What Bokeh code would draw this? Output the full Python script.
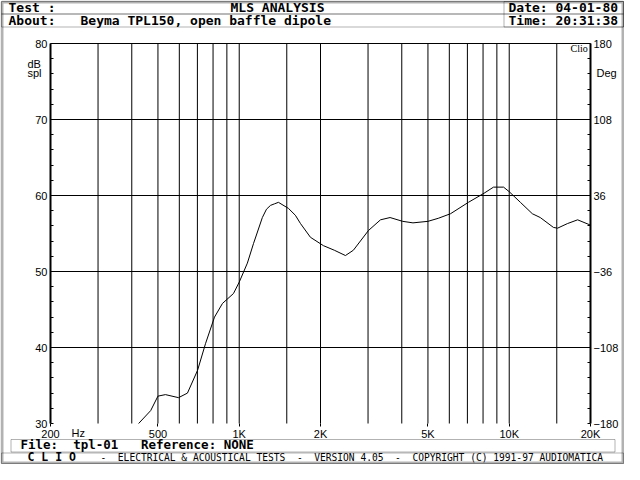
from bokeh.plotting import figure
from bokeh.models import LinearAxis, Range1d, FixedTicker, Label, BoxAnnotation
from bokeh.embed import file_html
from bokeh.resources import INLINE

# ---------------- data ----------------
freq_hz = [424, 470, 500, 533, 596, 643, 701, 750, 810, 867, 952, 1000,
           1072, 1130, 1218, 1262, 1306, 1350, 1397, 1522, 1614, 1687, 1836,
           2051, 2250, 2474, 2647, 3012, 3336, 3620, 4030, 4400, 5000, 5460,
           6060, 7060, 8070, 8745, 9530, 10000, 11000, 12180, 13030, 14580,
           15100, 16420, 17920, 20000]
spl_db = [30.0, 31.7, 33.6, 33.8, 33.4, 34.0, 37.0, 40.5, 44.0, 45.8, 47.1,
          48.6, 51.1, 53.7, 57.1, 58.2, 58.7, 58.9, 59.1, 58.3, 57.4, 56.3,
          54.5, 53.4, 52.8, 52.1, 52.8, 55.4, 56.8, 57.1, 56.6, 56.4, 56.6,
          57.0, 57.6, 59.1, 60.3, 61.1, 61.1, 60.5, 59.1, 57.6, 57.1, 55.8,
          55.7, 56.3, 56.8, 56.1]

F_MIN, F_MAX = 200, 20000
DB_MIN, DB_MAX = 30, 80
DEG_MIN, DEG_MAX = -180, 180

freq_ticks = [200, 500, 1000, 2000, 5000, 10000, 20000]
freq_labels = ["200", "500", "1K", "2K", "5K", "10K", "20K"]
freq_grid = [300, 400, 500, 600, 700, 800, 900, 1000, 1500, 2000, 3000, 4000,
             5000, 6000, 7000, 8000, 9000, 10000, 15000]
db_ticks = [30, 40, 50, 60, 70, 80]
db_minor = [30, 32, 34, 36, 38, 40, 42, 44, 46, 48, 50, 52, 54, 56, 58, 60,
            62, 64, 66, 68, 70, 72, 74, 76, 78, 80]
db_grid = [40, 50, 60, 70, 80]
deg_ticks = [-180, -108, -36, 36, 108, 180]
deg_minor = [-180, -165.6, -151.2, -136.8, -122.4, -108, -93.6, -79.2, -64.8,
             -50.4, -36, -21.6, -7.2, 7.2, 21.6, 36, 50.4, 64.8, 79.2, 93.6,
             108, 122.4, 136.8, 151.2, 165.6, 180]

NB = "\u00a0"  # non-breaking space keeps the fixed-width gaps in SVG text
title_text = "MLS ANALYSIS"
test_text = "Test :"
about_text = "About:"
device_text = "Beyma TPL150, open baffle dipole"
date_text = "Date: 04-01-80"
time_text = "Time: 20:31:38"
file_text = "File:" + NB * 2 + "tpl-01" + NB * 3 + "Reference:" + NB + "NONE"
clio_text = "C L I O"
footer_text = ("-" + NB * 2 + "ELECTRICAL & ACOUSTICAL TESTS" + NB * 2 + "-" + NB * 2 +
               "VERSION 4.05" + NB * 2 + "-" + NB * 2 + "COPYRIGHT (C) 1991-97 AUDIOMATICA")

# ---------------- layout (canvas pixels) ----------------
W, H = 624, 464
PL, PR, PT, PB = 50, 590, 43, 423          # plot area edges
PX_PER_DEC = (PR - PL) / 2.0               # two decades
PX_PER_DB = (PB - PT) / float(DB_MAX - DB_MIN)
DEG_PER_DB = (DEG_MAX - DEG_MIN) / float(DB_MAX - DB_MIN)

x_start = F_MIN * 10 ** (-PL / PX_PER_DEC)
x_end = F_MAX * 10 ** ((W - PR) / PX_PER_DEC)
y_start = DB_MIN - (H - PB) / PX_PER_DB
y_end = DB_MAX + PT / PX_PER_DB

p = figure(width=W, height=H, x_axis_type="log",
           x_range=Range1d(x_start, x_end), y_range=Range1d(y_start, y_end),
           output_backend="svg", toolbar_location=None,
           min_border=0, min_border_left=0, min_border_right=0,
           min_border_top=0, min_border_bottom=0)
p.outline_line_color = None
p.background_fill_color = "white"
p.border_fill_color = "white"
p.xgrid.visible = False
p.ygrid.visible = False

LABEL_FONT = "Liberation Sans"

# bottom axis, pinned at 30 dB
xa = p.xaxis[0]
xa.fixed_location = DB_MIN
xa.bounds = (F_MIN, F_MAX)
xa.ticker = FixedTicker(ticks=freq_ticks, minor_ticks=[])
xa.major_label_overrides = {f: l for f, l in zip(freq_ticks, freq_labels)}
xa.axis_line_color = None
xa.major_tick_out = 3
xa.major_tick_in = 0
xa.major_tick_line_color = "black"
xa.minor_tick_line_color = None
xa.major_label_standoff = 1
xa.major_label_text_font = LABEL_FONT
xa.major_label_text_font_size = "11px"
xa.major_label_text_color = "black"

# left axis, pinned at 200 Hz
ya = p.yaxis[0]
ya.fixed_location = F_MIN
ya.bounds = (DB_MIN, DB_MAX)
ya.ticker = FixedTicker(ticks=db_ticks, minor_ticks=db_minor)
ya.axis_line_width = 2
ya.axis_line_color = "black"
ya.major_tick_in = 0
ya.major_tick_out = 0
ya.minor_tick_in = 3
ya.minor_tick_out = 0
ya.minor_tick_line_color = "black"
ya.major_label_standoff = 3
ya.major_label_text_font = LABEL_FONT
ya.major_label_text_font_size = "11px"
ya.major_label_text_color = "black"

# right axis (phase), pinned at 20 kHz
p.extra_y_ranges = {"deg": Range1d(DEG_MIN + (y_start - DB_MIN) * DEG_PER_DB,
                                   DEG_MIN + (y_end - DB_MIN) * DEG_PER_DB)}
ra = LinearAxis(y_range_name="deg", fixed_location=F_MAX,
                bounds=(DEG_MIN, DEG_MAX),
                ticker=FixedTicker(ticks=deg_ticks, minor_ticks=deg_minor))
ra.axis_line_width = 2
ra.axis_line_color = "black"
ra.major_tick_in = 0
ra.major_tick_out = 0
ra.minor_tick_in = 3
ra.minor_tick_out = 0
ra.minor_tick_line_color = "black"
ra.major_label_standoff = 3
ra.major_label_text_font = LABEL_FONT
ra.major_label_text_font_size = "11px"
ra.major_label_text_color = "black"
p.add_layout(ra, "right")

# grid lines limited to the plot area
p.segment(x0=freq_grid, y0=[DB_MIN] * len(freq_grid),
          x1=freq_grid, y1=[DB_MAX] * len(freq_grid),
          line_color="black", line_width=1)
p.segment(x0=[F_MIN] * len(db_grid), y0=db_grid,
          x1=[F_MAX] * len(db_grid), y1=db_grid,
          line_color="black", line_width=1)

# response curve
p.line(freq_hz, spl_db, line_color="black", line_width=1)


# ---------------- decorations (screen units; frame == canvas) ----------------
def sx(X):
    return X


def sy(Y):
    return H - Y


def box(x0, y0, x1, y1, lw=1):
    p.add_layout(BoxAnnotation(left=sx(x0), right=sx(x1), top=sy(y0), bottom=sy(y1),
                               left_units="screen", right_units="screen",
                               top_units="screen", bottom_units="screen",
                               fill_alpha=0, fill_color=None,
                               line_color="black", line_width=lw, level="overlay"))


def label(X, Y, text, size=13, font="DejaVu Sans Mono", style="bold", align="left"):
    # Y is the wanted baseline; Label renders about 0.38 em lower than asked
    p.add_layout(Label(x=sx(X), y=sy(Y - 0.38 * size), x_units="screen", y_units="screen",
                       text=text, text_font=font, text_font_size="%.1fpx" % size,
                       text_font_style=style, text_color="black",
                       text_align=align, text_baseline="alphabetic"))


# header table
box(1, 1, 623, 13.5)
box(1, 13.5, 623, 26.5)
box(503.5, 1, 623, 26.5)
label(8, 11.5, test_text)
label(277, 11.5, title_text, align="center")
label(8, 25, about_text)
label(80, 25, device_text)
label(508, 11.5, date_text)
label(508, 25, time_text)

# axis captions
label(27, 68, "dB", size=11, font=LABEL_FONT, style="normal")
label(27, 77, "spl", size=11, font=LABEL_FONT, style="normal")
label(596, 77, "Deg", size=11, font=LABEL_FONT, style="normal")
label(71, 437, "Hz", size=11, font=LABEL_FONT, style="normal")
label(570, 52, "Clio", size=10, font="Liberation Serif", style="normal")

# footer
box(10.5, 439, 614.5, 451.5)
label(20, 449, file_text, size=12.5)
box(1, 452.5, 623, 463)
label(27, 460.7, clio_text, size=11.5)
label(100, 460.7, footer_text, size=9.6, style="normal")

# outer frame
box(1.5, 1.5, 622.5, 462.5, lw=3)

open("out.html", "w").write(file_html(p, INLINE))
